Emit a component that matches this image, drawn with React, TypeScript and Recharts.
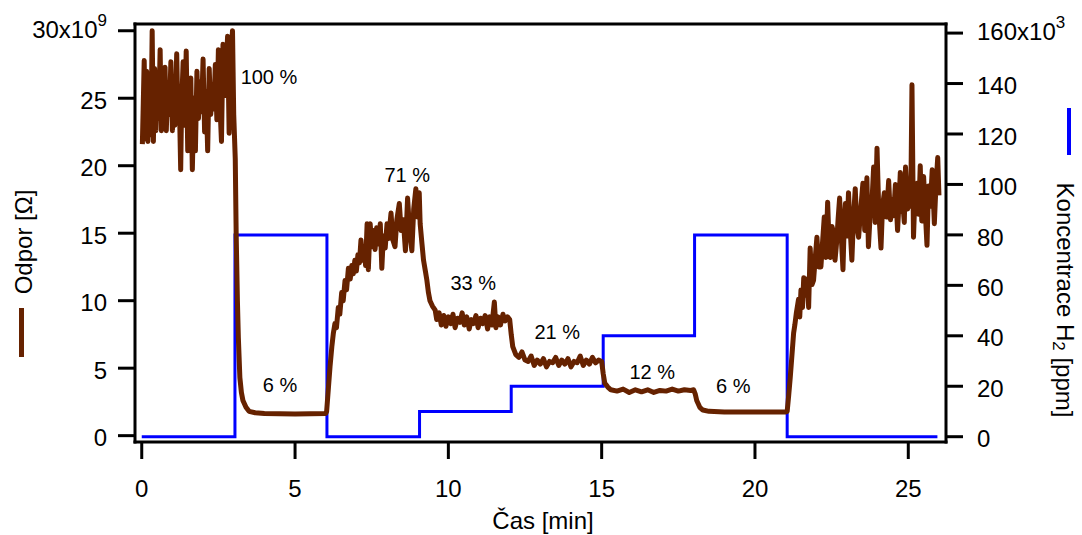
import React from 'react'
import {
  ComposedChart, Line, XAxis, YAxis, ReferenceDot,
} from 'recharts'

// Odpor [x10^9 Ω] vs. čas [min]
const odporAir1: [number, number][] = [
  [0.02, 21.6], [0.05, 24.6], [0.08, 27.8], [0.12, 22.0], [0.16, 27.0], [0.2, 21.8], [0.25, 26.5],
  [0.3, 22.3], [0.34, 30.0], [0.38, 21.8], [0.42, 27.2], [0.46, 22.6], [0.5, 26.0], [0.55, 23.5],
  [0.6, 28.6], [0.64, 22.6], [0.68, 25.5], [0.72, 24.0], [0.76, 27.3], [0.8, 22.6], [0.85, 26.0],
  [0.9, 23.8], [0.95, 27.7], [1.0, 22.6], [1.04, 25.0], [1.08, 23.0], [1.14, 28.3], [1.18, 23.8],
  [1.22, 25.5], [1.27, 19.7], [1.3, 24.5], [1.35, 27.7], [1.4, 23.0], [1.45, 28.5], [1.5, 21.1],
  [1.55, 24.0], [1.6, 26.5], [1.65, 19.7], [1.7, 25.0], [1.75, 21.1], [1.8, 27.0], [1.85, 23.5],
  [1.9, 26.2], [1.95, 24.0], [2.0, 27.9], [2.05, 22.5], [2.1, 25.5], [2.15, 21.1], [2.2, 27.2],
  [2.25, 23.8], [2.3, 26.0], [2.35, 24.2], [2.4, 27.5], [2.45, 23.4], [2.5, 28.6], [2.55, 24.5],
  [2.6, 21.8], [2.65, 29.0], [2.7, 25.2], [2.75, 27.0], [2.8, 29.6], [2.85, 22.4], [2.9, 27.5],
  [2.96, 30.0], [3.0, 23.8],
]
const odporH2_80a: [number, number][] = [
  [3.05, 20.5], [3.08, 14.9], [3.12, 10.0], [3.15, 7.3], [3.2, 4.3], [3.25, 3.2], [3.3, 2.6],
  [3.4, 2.1], [3.5, 1.8], [3.7, 1.7], [4.0, 1.65], [4.5, 1.62], [5.0, 1.6], [5.5, 1.62], [6.0, 1.65],
]
const odporAir2: [number, number][] = [
  [6.03, 1.8], [6.09, 3.6], [6.14, 5.1], [6.2, 6.6], [6.25, 7.6], [6.3, 8.3], [6.35, 8.0],
  [6.41, 9.5], [6.46, 9.0], [6.52, 10.6], [6.57, 10.0], [6.63, 11.5], [6.68, 10.8], [6.74, 12.4],
  [6.8, 11.6], [6.85, 12.6], [6.9, 12.0], [6.95, 13.0], [7.0, 12.2], [7.05, 13.4], [7.1, 12.8],
  [7.15, 14.5], [7.2, 13.0], [7.25, 14.0], [7.3, 12.6], [7.35, 15.7], [7.39, 12.3], [7.45, 15.7],
  [7.5, 14.0], [7.55, 15.2], [7.61, 13.8], [7.66, 15.4], [7.72, 14.2], [7.78, 15.7], [7.83, 12.4],
  [7.88, 14.8], [7.94, 13.9], [8.0, 15.7], [8.05, 14.6], [8.13, 16.5], [8.19, 14.5], [8.26, 14.0],
  [8.32, 16.0], [8.4, 17.2], [8.46, 15.2], [8.53, 16.0], [8.6, 13.7], [8.67, 17.6], [8.74, 15.0],
  [8.81, 13.7], [8.87, 16.8], [8.94, 18.3], [9.0, 16.2], [9.05, 18.0],
]
const odporH2_10: [number, number][] = [
  [9.08, 15.7], [9.14, 14.2], [9.19, 13.0], [9.25, 12.2], [9.3, 11.5], [9.35, 10.6], [9.4, 10.0],
  [9.48, 9.6], [9.57, 9.3], [9.62, 8.6], [9.7, 9.1], [9.77, 8.2], [9.85, 8.9], [9.92, 8.1],
  [10.0, 8.8], [10.08, 8.3], [10.15, 9.0], [10.22, 8.0], [10.3, 8.7], [10.38, 8.4], [10.45, 9.1],
  [10.52, 8.2], [10.6, 8.8], [10.68, 7.9], [10.75, 8.6], [10.82, 8.3], [10.9, 8.9], [10.97, 8.0],
  [11.05, 8.7], [11.12, 8.3], [11.2, 8.9], [11.28, 7.9], [11.35, 8.8], [11.42, 8.2], [11.5, 9.9],
  [11.55, 8.0], [11.62, 8.8], [11.7, 8.2], [11.78, 9.0], [11.85, 8.5], [11.93, 8.8], [12.0, 8.6],
]
const odporH2_20: [number, number][] = [
  [12.05, 7.5], [12.1, 6.6], [12.2, 6.0], [12.3, 5.8], [12.4, 6.2], [12.5, 5.6], [12.6, 5.5],
  [12.7, 5.9], [12.8, 5.2], [12.9, 5.6], [13.0, 5.3], [13.1, 5.7], [13.2, 5.1], [13.3, 5.5],
  [13.4, 5.4], [13.5, 5.8], [13.6, 5.2], [13.7, 5.6], [13.8, 5.3], [13.9, 5.7], [14.0, 5.1],
  [14.1, 5.5], [14.2, 5.4], [14.3, 5.9], [14.4, 5.2], [14.5, 5.6], [14.6, 5.3], [14.7, 5.8],
  [14.8, 5.4], [14.9, 5.6], [15.0, 5.5],
]
const odporH2_40: [number, number][] = [
  [15.05, 4.6], [15.1, 3.9], [15.2, 3.6], [15.3, 3.4], [15.5, 3.3], [15.7, 3.45], [15.9, 3.2],
  [16.1, 3.4], [16.3, 3.25], [16.5, 3.4], [16.7, 3.2], [16.9, 3.35], [17.1, 3.3], [17.3, 3.45],
  [17.5, 3.3], [17.7, 3.4], [17.9, 3.35], [18.0, 3.4],
]
const odporH2_80b: [number, number][] = [
  [18.05, 3.1], [18.1, 2.6], [18.2, 2.1], [18.3, 1.9], [18.5, 1.8], [19.0, 1.75], [19.5, 1.75],
  [20.0, 1.76], [20.5, 1.75], [21.0, 1.75],
]
const odporAir3: [number, number][] = [
  [21.05, 1.8], [21.1, 3.0], [21.15, 4.3], [21.21, 6.1], [21.26, 7.6], [21.3, 8.2], [21.35, 9.1],
  [21.42, 10.1], [21.46, 8.8], [21.5, 10.8], [21.55, 9.5], [21.59, 11.7], [21.65, 10.4], [21.7, 11.6],
  [21.75, 9.5], [21.8, 13.9], [21.86, 11.2], [21.91, 11.5], [21.96, 13.0], [22.02, 14.7], [22.08, 12.5],
  [22.15, 12.5], [22.2, 14.2], [22.26, 16.2], [22.31, 13.2], [22.37, 17.3], [22.42, 14.0], [22.46, 13.2],
  [22.51, 15.5], [22.56, 15.1], [22.61, 13.0], [22.67, 14.5], [22.71, 16.0], [22.76, 17.6], [22.82, 14.5],
  [22.87, 12.3], [22.91, 15.6], [22.95, 17.2], [23.0, 14.8], [23.05, 18.0], [23.1, 15.5], [23.16, 13.0],
  [23.21, 16.0], [23.27, 18.3], [23.32, 15.6], [23.38, 14.7], [23.45, 16.8], [23.52, 18.7], [23.58, 15.2],
  [23.65, 19.1], [23.7, 14.0], [23.76, 16.5], [23.82, 17.5], [23.87, 19.9], [23.92, 15.8], [23.98, 21.3],
  [24.04, 16.5], [24.11, 13.9], [24.16, 17.0], [24.22, 18.0], [24.29, 16.2], [24.36, 18.9], [24.42, 16.0],
  [24.47, 17.5], [24.52, 16.3], [24.58, 18.6], [24.65, 15.2], [24.7, 17.4], [24.74, 19.5], [24.79, 16.6],
  [24.83, 17.0], [24.87, 15.8], [24.91, 19.9], [24.98, 16.8], [25.04, 18.4], [25.08, 17.0], [25.12, 26.0],
  [25.17, 14.7], [25.22, 18.0], [25.29, 18.7], [25.34, 16.4], [25.39, 20.0], [25.44, 15.9], [25.5, 19.2],
  [25.55, 16.8], [25.61, 14.1], [25.66, 18.5], [25.72, 17.0], [25.78, 19.7], [25.85, 15.7], [25.9, 18.4],
  [25.96, 20.6], [26.0, 17.8],
]

// koncentrace H2 [x10^3 ppm], schodky
const koncCas = [0, 3.04, 6.04, 9.06, 12.05, 15.05, 18.03, 21.05, 25.95]
const koncHodnota = [0, 80, 0, 10, 20, 40, 80, 0, 0]

// popisky relativni koncentrace
const popisky = [
  { t: 4.15, v: 26.6, text: '100 %' },
  { t: 4.51, v: 3.75, text: '6 %' },
  { t: 8.66, v: 19.3, text: '71 %' },
  { t: 10.81, v: 11.3, text: '33 %' },
  { t: 13.55, v: 7.7, text: '21 %' },
  { t: 16.65, v: 4.7, text: '12 %' },
  { t: 19.29, v: 3.7, text: '6 %' },
]

const xTicks = [0, 5, 10, 15, 20, 25]
const odporTicks = [0, 5, 10, 15, 20, 25, 30]
const koncTicks = [0, 20, 40, 60, 80, 100, 120, 140, 160]

const BROWN = '#662200'
const BLUE = '#0000ff'
const FONT = '"Liberation Sans", Arial, sans-serif'

const odporData = [
  ...odporAir1, ...odporH2_80a, ...odporAir2, ...odporH2_10,
  ...odporH2_20, ...odporH2_40, ...odporH2_80b, ...odporAir3,
].map(([t, v]) => ({ t, v }))
const koncData = koncCas.map((t, i) => ({ t, c: koncHodnota[i] }))

const axisStyle = { stroke: '#000', strokeWidth: 3, strokeLinecap: 'square' as const }
const tickStyle = { stroke: '#000', strokeWidth: 3 }

function LeftTick(props: any) {
  const { x, y, payload } = props
  const v = payload.value
  if (v === 30) {
    return (
      <text x={x} y={y + 7} textAnchor="end" fontSize={24} fontFamily={FONT} fill="#000">
        30x10<tspan dy={-12} fontSize={17}>9</tspan>
      </text>
    )
  }
  return (
    <text x={x} y={y + 2} dy="0.36em" textAnchor="end" fontSize={24} fontFamily={FONT} fill="#000">{v}</text>
  )
}

function RightTick(props: any) {
  const { x, y, payload } = props
  const v = payload.value
  if (v === 160) {
    return (
      <text x={x} y={y + 7} textAnchor="start" fontSize={24} fontFamily={FONT} fill="#000">
        160x10<tspan dy={-12} fontSize={17}>3</tspan>
      </text>
    )
  }
  return (
    <text x={x} y={y + 2} dy="0.36em" textAnchor="start" fontSize={24} fontFamily={FONT} fill="#000">{v}</text>
  )
}

function BottomTick(props: any) {
  const { x, y, payload } = props
  return (
    <text x={x} y={y} dy="0.71em" textAnchor="middle" fontSize={24} fontFamily={FONT} fill="#000">
      {payload.value}
    </text>
  )
}

export default function App() {
  return (
    <div style={{ position: 'absolute', left: 0, top: 0, width: 1082, height: 535, background: '#fff', fontFamily: FONT }}>
      <ComposedChart width={1082} height={535} margin={{ top: 0, right: 0, bottom: 0, left: 0 }}>
        <XAxis
          xAxisId="b" dataKey="t" type="number" domain={[-0.22, 26.23]} ticks={xTicks}
          height={93} tickSize={17} tickMargin={21} axisLine={axisStyle} tickLine={tickStyle}
          tick={<BottomTick />} allowDataOverflow interval={0}
        />
        <XAxis
          xAxisId="top" orientation="top" type="number" domain={[-0.22, 26.23]}
          height={24} tick={false} tickLine={false} axisLine={axisStyle} allowDataOverflow
        />
        <YAxis
          yAxisId="odpor" type="number" domain={[-0.47, 30.5]} ticks={odporTicks} width={135}
          tickSize={17} tickMargin={11} axisLine={axisStyle} tickLine={tickStyle}
          tick={<LeftTick />} allowDataOverflow interval={0}
        />
        <YAxis
          yAxisId="konc" orientation="right" type="number" domain={[-2.1, 163.6]} ticks={koncTicks}
          width={136} tickSize={17} tickMargin={14} axisLine={axisStyle} tickLine={tickStyle}
          tick={<RightTick />} allowDataOverflow interval={0}
        />
        <Line
          xAxisId="b" yAxisId="konc" data={koncData} dataKey="c" type="stepAfter"
          stroke={BLUE} strokeWidth={3} dot={false} isAnimationActive={false}
        />
        <Line
          xAxisId="b" yAxisId="odpor" data={odporData} dataKey="v" type="linear"
          stroke={BROWN} strokeWidth={5} dot={false} isAnimationActive={false}
          strokeLinejoin="round"
        />
        {popisky.map(p => (
          <ReferenceDot
            key={p.text + p.t} xAxisId="b" yAxisId="odpor" x={p.t} y={p.v} r={0}
            fill="none" stroke="none"
            label={{ value: p.text, position: 'center', fill: '#000', fontSize: 20, fontFamily: FONT }}
          />
        ))}
      </ComposedChart>
      <svg width={1082} height={535} style={{ position: 'absolute', left: 0, top: 0, pointerEvents: 'none' }}>
        <text transform="translate(23,242) rotate(-90)" textAnchor="middle" dominantBaseline="central"
          fontSize={24} fontFamily={FONT} fill="#000">Odpor [Ω]</text>
        <rect x={19} y={308} width={5} height={49} fill={BROWN} />
        <text transform="translate(1065,300) rotate(90)" textAnchor="middle" dominantBaseline="central"
          fontSize={24} fontFamily={FONT} fill="#000">
          Koncentrace H<tspan dy={6} fontSize={17}>2</tspan><tspan dy={-6}> [ppm]</tspan>
        </text>
        <rect x={1067} y={108} width={4} height={47} fill={BLUE} />
        <text x={543} y={529} textAnchor="middle" fontSize={24} fontFamily={FONT} fill="#000">Čas [min]</text>
      </svg>
    </div>
  )
}
